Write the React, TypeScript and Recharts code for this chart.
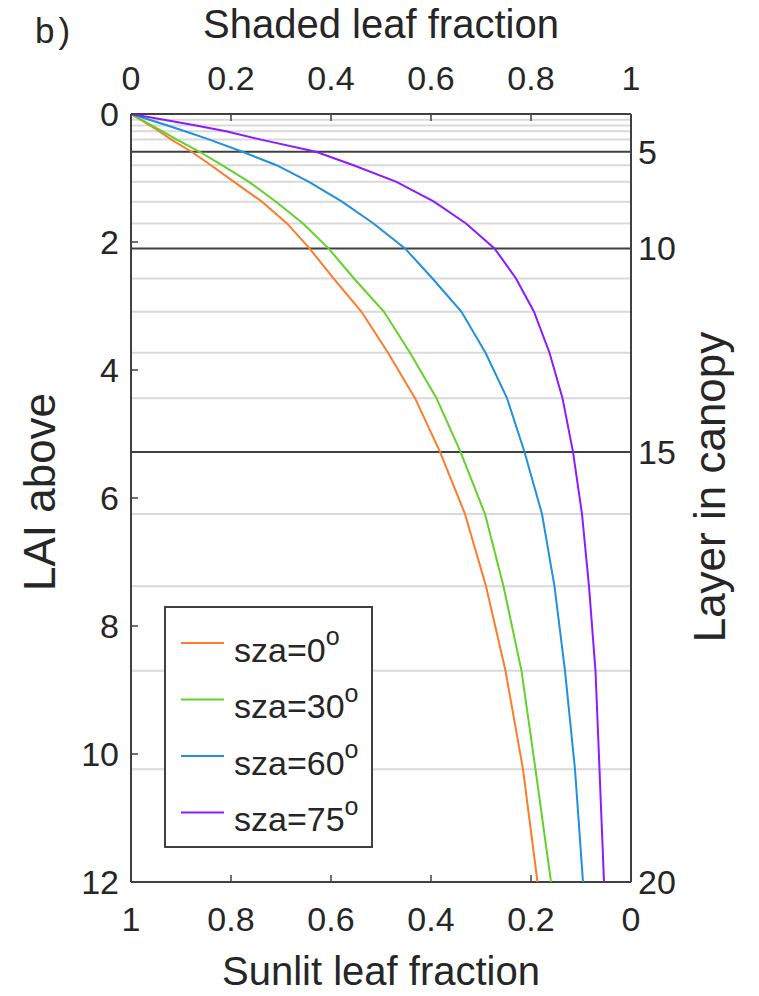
import React from 'react';
import { ScatterChart, Scatter, XAxis, YAxis, ReferenceLine, Legend } from 'recharts';

// LAI above at each layer boundary (layer 0..20)
const laiLevels = [0, 0.09, 0.18, 0.27, 0.40, 0.59, 0.80, 1.06, 1.37, 1.71, 2.10, 2.57, 3.09, 3.73, 4.44, 5.28, 6.25, 7.38, 8.70, 10.24, 12.0];

// Shaded leaf fraction at each boundary
const shadedSza0 = [0, 0.019, 0.038, 0.056, 0.081, 0.121, 0.160, 0.206, 0.262, 0.312, 0.357, 0.405, 0.461, 0.514, 0.568, 0.618, 0.668, 0.710, 0.749, 0.784, 0.813];
const shadedSza30 = [0, 0.021, 0.042, 0.063, 0.092, 0.137, 0.182, 0.236, 0.290, 0.344, 0.395, 0.446, 0.506, 0.558, 0.611, 0.659, 0.708, 0.745, 0.781, 0.809, 0.840];
const shadedSza60 = [0, 0.037, 0.073, 0.108, 0.157, 0.223, 0.291, 0.356, 0.422, 0.485, 0.548, 0.603, 0.661, 0.709, 0.752, 0.787, 0.822, 0.847, 0.868, 0.888, 0.904];
const shadedSza75 = [0, 0.066, 0.130, 0.190, 0.260, 0.370, 0.445, 0.531, 0.606, 0.670, 0.727, 0.770, 0.806, 0.837, 0.863, 0.884, 0.902, 0.916, 0.929, 0.937, 0.946];

const seriesAngles = ['0', '30', '60', '75'];
const seriesColors = ['#ff7a2a', '#62d22a', '#2290dc', '#8b1cff'];
const seriesValues = [shadedSza0, shadedSza30, shadedSza60, shadedSza75];

const shadedTicks = [0, 0.2, 0.4, 0.6, 0.8, 1];
const sunlitTicks = [0, 0.2, 0.4, 0.6, 0.8, 1];
const laiTicks = [0, 2, 4, 6, 8, 10, 12];
const layerTicks = [5, 10, 15, 20];
const majorLayers = [5, 10, 15];

const FONT = '"Liberation Sans", Arial, Helvetica, sans-serif';
const TXT = '#262626';
const AXIS = '#404040';
const PL = 131, PR = 631, PT = 114, PB = 882;
const TICK_FS = 34;
const TITLE_FS = 40;
const VTITLE_FS = 44;

const fmt = (v: number) => (v === 0 ? '0' : v === 1 ? '1' : String(v));

const TopTick = (props: any) => {
  const { x, payload } = props;
  return (
    <g>
      <line x1={x} x2={x} y1={PT} y2={PT + 7} stroke={AXIS} strokeWidth={1.5} />
      <text x={x} y={90} textAnchor="middle" fontSize={TICK_FS} fill={TXT} fontFamily={FONT}>{fmt(payload.value)}</text>
    </g>
  );
};
const BottomTick = (props: any) => {
  const { x, payload } = props;
  return (
    <g>
      <line x1={x} x2={x} y1={PB} y2={PB - 7} stroke={AXIS} strokeWidth={1.5} />
      <text x={x} y={931} textAnchor="middle" fontSize={TICK_FS} fill={TXT} fontFamily={FONT}>{fmt(payload.value)}</text>
    </g>
  );
};
const LeftTick = (props: any) => {
  const { y, payload } = props;
  return (
    <g>
      <line x1={PL} x2={PL + 7} y1={y} y2={y} stroke={AXIS} strokeWidth={1.5} />
      <text x={119} y={y + 12} textAnchor="end" fontSize={TICK_FS} fill={TXT} fontFamily={FONT}>{payload.value}</text>
    </g>
  );
};
const RightTick = (props: any) => {
  const { y, index } = props;
  return (
    <text x={638} y={y + 12} textAnchor="start" fontSize={TICK_FS} fill={TXT} fontFamily={FONT}>{layerTicks[index]}</text>
  );
};

const LegendBox = () => (
  <svg width={210} height={243} style={{ display: 'block' }}>
    <rect x={1} y={1} width={207} height={240} fill="#fff" stroke={AXIS} strokeWidth={2} />
    {seriesAngles.map((a, i) => {
      const ly = 37 + i * 56.5;
      return (
        <g key={a}>
          <line x1={17} x2={60} y1={ly} y2={ly} stroke={seriesColors[i]} strokeWidth={2} />
          <text x={70} y={ly + 18.5} fontSize={34} fill={TXT} fontFamily={FONT}>
            {'sza=' + a}
            <tspan dy={-16.5} fontSize={25}>o</tspan>
          </text>
        </g>
      );
    })}
  </svg>
);

export default function App() {
  const seriesData = seriesValues.map((vals) => laiLevels.map((l, i) => ({ lai: l, shaded: vals[i] })));
  const sunlitAnchor = sunlitTicks.map((t) => ({ sunlit: t, lai: 0 }));
  const grayLevels = laiLevels.filter((_, i) => i > 0 && i < 20 && !majorLayers.includes(i));
  return (
    <div style={{ position: 'absolute', left: 0, top: 0, width: 759, height: 996, background: '#fff' }}>
      <ScatterChart width={759} height={996} margin={{ top: 74, right: 68, bottom: 74, left: 71 }}>
        <XAxis
          xAxisId="shaded" orientation="top" type="number" dataKey="shaded" domain={[0, 1]} ticks={shadedTicks}
          allowDataOverflow interval={0} height={40} tick={TopTick} tickLine={false}
          axisLine={{ stroke: AXIS, strokeWidth: 2 }}
          label={() => (
            <text x={381} y={38} textAnchor="middle" fontSize={TITLE_FS} fill={TXT} fontFamily={FONT}>Shaded leaf fraction</text>
          )}
        />
        <XAxis
          xAxisId="sunlit" orientation="bottom" type="number" dataKey="sunlit" domain={[0, 1]} reversed ticks={sunlitTicks}
          allowDataOverflow interval={0} height={40} tick={BottomTick} tickLine={false}
          axisLine={{ stroke: AXIS, strokeWidth: 2 }}
          label={() => (
            <text x={381} y={985} textAnchor="middle" fontSize={TITLE_FS} fill={TXT} fontFamily={FONT}>Sunlit leaf fraction</text>
          )}
        />
        <YAxis
          yAxisId="lai" orientation="left" type="number" dataKey="lai" domain={[0, 12]} reversed ticks={laiTicks}
          allowDataOverflow interval={0} width={60} tick={LeftTick} tickLine={false}
          axisLine={{ stroke: AXIS, strokeWidth: 2 }}
          label={() => (
            <text x={55} y={492} transform="rotate(-90 55 492)" textAnchor="middle" fontSize={VTITLE_FS} fill={TXT} fontFamily={FONT}>LAI above</text>
          )}
        />
        <YAxis
          yAxisId="layer" orientation="right" type="number" dataKey="lai" domain={[0, 12]} reversed
          ticks={layerTicks.map((n) => laiLevels[n])}
          allowDataOverflow interval={0} width={60} tick={RightTick} tickLine={false}
          axisLine={{ stroke: AXIS, strokeWidth: 2 }}
          label={() => (
            <text x={725} y={487} transform="rotate(-90 725 487)" textAnchor="middle" fontSize={VTITLE_FS} fill={TXT} fontFamily={FONT}>Layer in canopy</text>
          )}
        />
        {grayLevels.map((l) => (
          <ReferenceLine key={'g' + l} xAxisId="shaded" yAxisId="lai" y={l} stroke="#d9d9d9" strokeWidth={2} />
        ))}
        {majorLayers.map((n) => (
          <ReferenceLine key={'b' + n} xAxisId="shaded" yAxisId="lai" y={laiLevels[n]} stroke={AXIS} strokeWidth={2} />
        ))}
        <Scatter
          name="sunlit-axis"
          data={sunlitAnchor}
          xAxisId="sunlit"
          yAxisId="layer"
          fill="none"
          shape={() => null}
          legendType="none"
          isAnimationActive={false}
        />
        {seriesData.map((d, i) => (
          <Scatter
            key={seriesAngles[i]}
            name={'sza=' + seriesAngles[i]}
            data={d}
            xAxisId="shaded"
            yAxisId="lai"
            fill={seriesColors[i]}
            line={{ stroke: seriesColors[i], strokeWidth: 2 }}
            lineType="joint"
            shape={() => null}
            isAnimationActive={false}
          />
        ))}
        <Legend
          layout="vertical" align="center" verticalAlign="middle"
          wrapperStyle={{ position: 'absolute', left: 164, top: 606, width: 210, height: 243 }}
          content={() => <LegendBox />}
        />
      </ScatterChart>
      <div style={{ position: 'absolute', left: 35, top: 11, fontSize: 35, fontFamily: FONT, color: TXT, letterSpacing: 4 }}>b)</div>
    </div>
  );
}
